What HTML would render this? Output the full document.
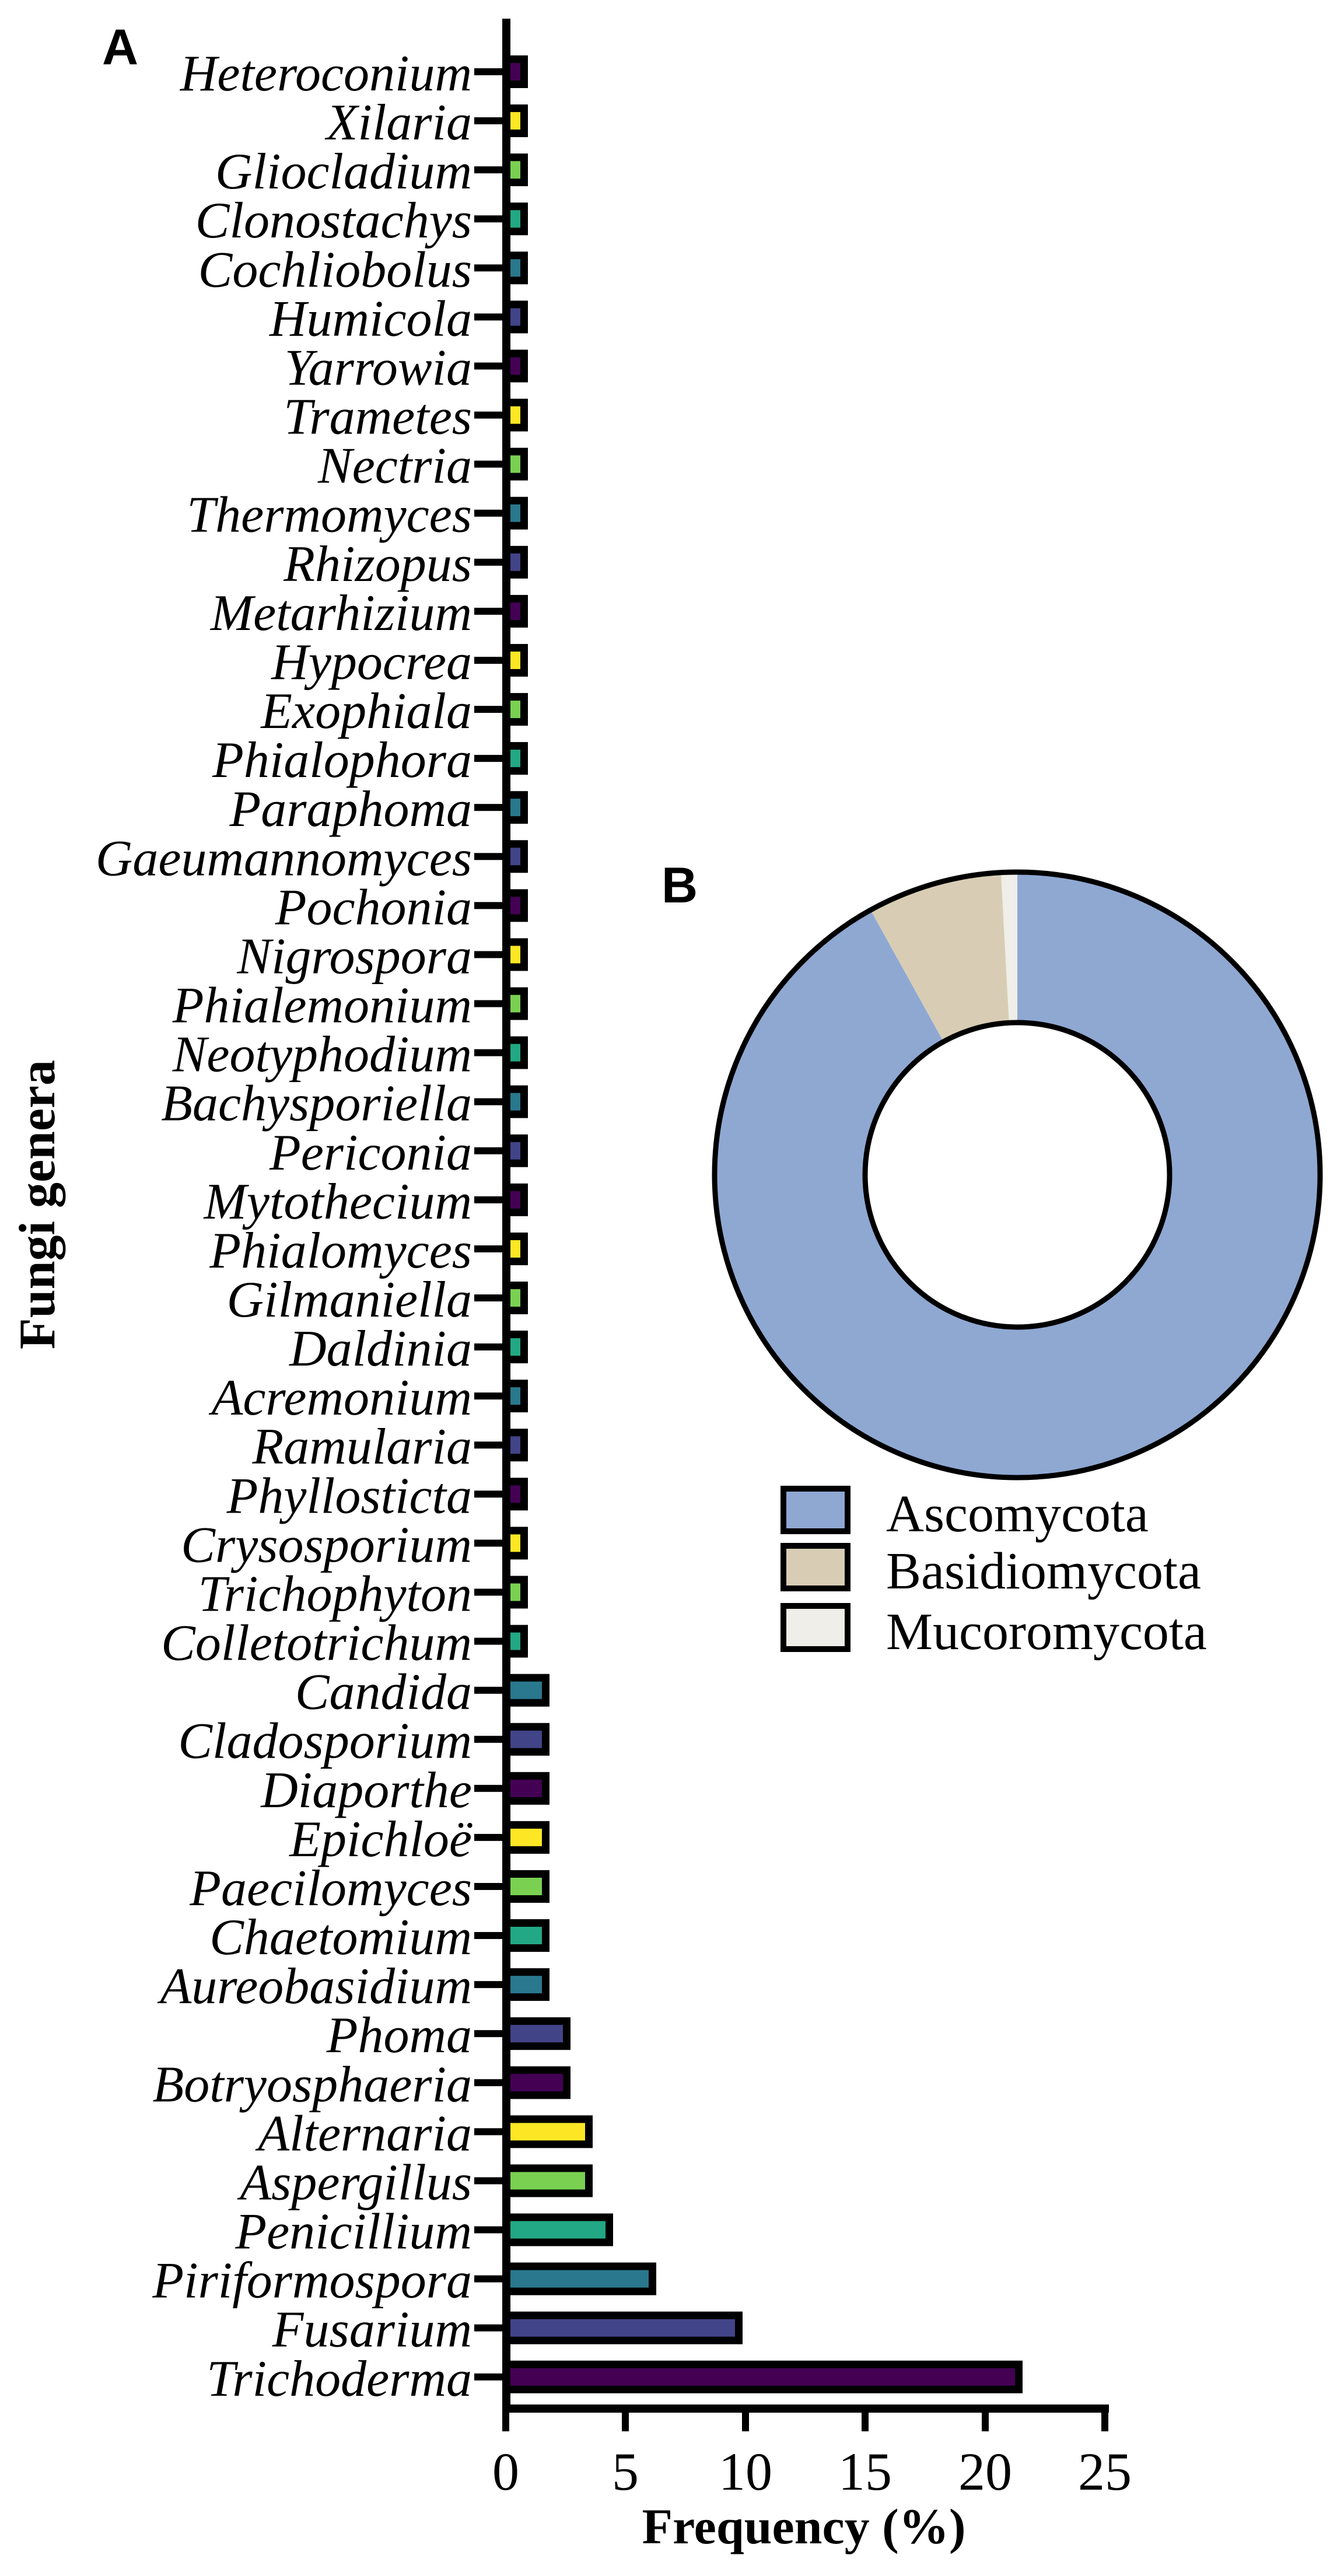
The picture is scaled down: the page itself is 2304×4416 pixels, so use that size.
<!DOCTYPE html>
<html><head><meta charset="utf-8"><style>
html,body{margin:0;padding:0;background:#fff;}
svg{display:block;}
.lab{font-family:"Liberation Serif",serif;font-style:italic;font-size:88px;fill:#000;}
</style></head><body>
<svg width="2304" height="4416" viewBox="0 0 2304 4416" xmlns="http://www.w3.org/2000/svg">
<rect width="2304" height="4416" fill="#fff"/>
<text x="175" y="110" font-family="Liberation Sans, sans-serif" font-weight="bold" font-size="86">A</text>
<text x="1134" y="1547" font-family="Liberation Sans, sans-serif" font-weight="bold" font-size="86">B</text>
<text transform="translate(93,2065) rotate(-90)" text-anchor="middle" font-family="Liberation Serif, serif" font-weight="bold" font-size="88">Fungi genera</text>
<g id="bars"></g>
<!-- axes -->
<rect x="861" y="32" width="14" height="4104" fill="#000"/>
<rect x="861" y="4122" width="1040" height="14" fill="#000"/>
<g fill="#000">
<rect x="861" y="4122" width="12" height="46"/>
<rect x="1066" y="4122" width="12" height="46"/>
<rect x="1272" y="4122" width="12" height="46"/>
<rect x="1477" y="4122" width="12" height="46"/>
<rect x="1683" y="4122" width="12" height="46"/>
<rect x="1888" y="4122" width="12" height="46"/>
</g>
<g font-family="Liberation Serif, serif" font-size="92" text-anchor="middle">
<text x="867" y="4268">0</text><text x="1072" y="4268">5</text><text x="1278" y="4268">10</text>
<text x="1483" y="4268">15</text><text x="1689" y="4268">20</text><text x="1894" y="4268">25</text>
</g>
<text x="1378" y="4360" text-anchor="middle" font-family="Liberation Serif, serif" font-weight="bold" font-size="86">Frequency (%)</text>
<!-- donut -->
<g stroke="none">
<path id="asco" fill="#8fa8d2"/>
<path id="basid" fill="#d8cdb4"/>
<path id="muco" fill="#efeee8"/>
</g>
<circle cx="1744" cy="2014" r="519" fill="none" stroke="#000" stroke-width="9"/>
<circle cx="1744" cy="2014" r="261" fill="#fff" stroke="#000" stroke-width="9"/>
<!-- legend -->
<rect x="1343" y="2552" width="110" height="73" fill="#8fa8d2" stroke="#000" stroke-width="10"/>
<rect x="1343" y="2650" width="110" height="73" fill="#d8cdb4" stroke="#000" stroke-width="10"/>
<rect x="1343" y="2753" width="110" height="74" fill="#efeee8" stroke="#000" stroke-width="10"/>
<g font-family="Liberation Serif, serif" font-size="90">
<text x="1519" y="2625">Ascomycota</text>
<text x="1519" y="2723">Basidiomycota</text>
<text x="1519" y="2827">Mucoromycota</text>
</g>
</svg>
<script>
var names=["Heteroconium","Xilaria","Gliocladium","Clonostachys","Cochliobolus","Humicola","Yarrowia","Trametes","Nectria","Thermomyces","Rhizopus","Metarhizium","Hypocrea","Exophiala","Phialophora","Paraphoma","Gaeumannomyces","Pochonia","Nigrospora","Phialemonium","Neotyphodium","Bachysporiella","Periconia","Mytothecium","Phialomyces","Gilmaniella","Daldinia","Acremonium","Ramularia","Phyllosticta","Crysosporium","Trichophyton","Colletotrichum","Candida","Cladosporium","Diaporthe","Epichloë","Paecilomyces","Chaetomium","Aureobasidium","Phoma","Botryosphaeria","Alternaria","Aspergillus","Penicillium","Piriformospora","Fusarium","Trichoderma"];
var C={P:"#440154",Y:"#fde725",G:"#7ad151",TG:"#22a884",T:"#2a788e",B:"#414487"};
var cyc=["P","Y","G","TG","T","B"];
var first=["P","Y","G","TG","T","B","P","Y","G","T","B"];
var ends={};
for(var i=0;i<48;i++){ends[i]=i<=32?905:942;}
ends[40]=978;ends[41]=978;ends[42]=1016;ends[43]=1016;ends[44]=1051;ends[45]=1125;ends[46]=1273;ends[47]=1753;
var s="";
for(var i=0;i<48;i++){
 var y=123+i*84.08;
 var col=i<11?C[first[i]]:C[cyc[(i-11)%6]];
 var e=ends[i];
 s+='<rect x="813" y="'+(y-6)+'" width="55" height="12" fill="#000"/>';
 s+='<rect x="868" y="'+(y-28)+'" width="'+(e-868)+'" height="56" fill="#000"/>';
 s+='<rect x="875" y="'+(y-15)+'" width="'+Math.max(e-875-13,6)+'" height="30" fill="'+col+'"/>';
 s+='<text class="lab" x="809" y="'+(y+32)+'" text-anchor="end">'+names[i]+'</text>';
}
document.getElementById("bars").innerHTML=s;
function arc(a0,a1,R,r){var cx=1744,cy=2014;function p(a,rr){var t=(a-90)*Math.PI/180;return [cx+rr*Math.cos(t),cy+rr*Math.sin(t)];}
var l=(a1-a0)>180?1:0;var A=p(a0,R),B=p(a1,R),Cc=p(a1,r),D=p(a0,r);
return "M"+A+" A"+R+","+R+" 0 "+l+" 1 "+B+" L"+Cc+" A"+r+","+r+" 0 "+l+" 0 "+D+" Z";}
document.getElementById("asco").setAttribute("d",arc(0,331,519,261));
document.getElementById("basid").setAttribute("d",arc(331,356.9,519,261));
document.getElementById("muco").setAttribute("d",arc(356.9,360,519,261));
</script>
</body></html>
